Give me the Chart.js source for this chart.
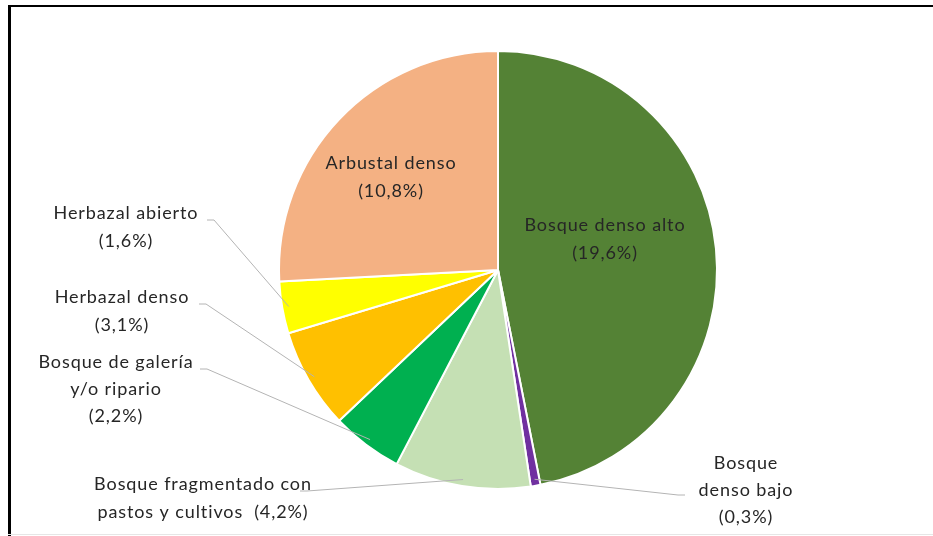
<!DOCTYPE html>
<html>
<head>
<meta charset="utf-8">
<script src="https://cdn.jsdelivr.net/npm/chart.js@4.4.1/dist/chart.umd.min.js"></script>
<style>
html,body{margin:0;padding:0;background:#fff;}
#wrap{position:relative;width:933px;height:536px;}
</style>
</head>
<body>
<div id="wrap"><canvas id="c" width="933" height="536"></canvas></div>
<script>
const categories = ["Bosque denso alto","Bosque denso bajo","Bosque fragmentado con pastos y cultivos","Bosque de galería y/o ripario","Herbazal denso","Herbazal abierto","Arbustal denso"];
const values = [19.6, 0.3, 4.2, 2.2, 3.1, 1.6, 10.8];
const valueLabels = ["(19,6%)","(0,3%)","(4,2%)","(2,2%)","(3,1%)","(1,6%)","(10,8%)"];
const colors = ["#548235","#7030A0","#C5E0B4","#00B050","#FFC000","#FFFF00","#F4B183"];

// label layout: lines of text, anchor center, optional leader start
const labelLayout = [
  {lines:["Bosque denso alto","(19,6%)"], x:605, y:225},
  {lines:["Bosque","denso bajo","(0,3%)"], x:746, y:463, lead:{x:685,y:495}},
  {lines:["Bosque fragmentado con","pastos y cultivos  (4,2%)"], x:203, y:484, lead:{x:300,y:491}},
  {lines:["Bosque de galería","y/o ripario","(2,2%)"], x:116, y:362, lead:{x:200,y:369}},
  {lines:["Herbazal denso","(3,1%)"], x:122, y:297, lead:{x:199,y:304}},
  {lines:["Herbazal abierto","(1,6%)"], x:126, y:213, lead:{x:207,y:220}},
  {lines:["Arbustal denso","(10,8%)"], x:391, y:163}
];

const labelPlugin = {
  id:'labels',
  afterDraw(chart){
    const ctx = chart.ctx;
    const meta = chart.getDatasetMeta(0);
    ctx.save();
    // frame
    ctx.fillStyle = '#000';
    ctx.fillRect(8,5,925,2);
    ctx.fillRect(8,5,3,531);
    ctx.fillStyle = '#e6e6e6';
    ctx.fillRect(8,534,925,1);
    // leader lines
    ctx.strokeStyle = '#B4B4B4';
    ctx.lineWidth = 1;
    labelLayout.forEach((L,i)=>{
      if(!L.lead) return;
      const arc = meta.data[i];
      const p = arc.getProps(['x','y','startAngle','endAngle','outerRadius'], true);
      const mid = (p.startAngle + p.endAngle)/2;
      const r = p.outerRadius*0.97;
      const tx = p.x + Math.cos(mid)*r, ty = p.y + Math.sin(mid)*r;
      ctx.beginPath();
      ctx.moveTo(L.lead.x, L.lead.y);
      const hx = L.lead.x + (tx > L.lead.x ? 7 : -7);
      ctx.lineTo(hx, L.lead.y);
      ctx.lineTo(tx, ty);
      ctx.stroke();
    });
    // text
    ctx.fillStyle = '#262626';
    ctx.font = '18px Lato, "Open Sans", sans-serif';
    ctx.textAlign = 'center';
    ctx.textBaseline = 'middle';
    try { ctx.letterSpacing = '0.9px'; } catch(e){}
    labelLayout.forEach(L=>{
      const lh = L.lines.length === 3 ? 27 : 28;
      L.lines.forEach((t,k)=>{
        ctx.fillText(t, L.x, L.y + k*lh);
      });
    });
    ctx.restore();
  }
};

new Chart(document.getElementById('c'), {
  type:'pie',
  data:{
    labels: categories,
    datasets:[{
      data: values,
      backgroundColor: colors,
      borderColor:'#ffffff',
      borderWidth:2,
      hoverOffset:0
    }]
  },
  options:{
    responsive:false,
    animation:false,
    events:[],
    layout:{padding:{top:50,bottom:46,left:200,right:137}},
    plugins:{legend:{display:false},tooltip:{enabled:false}}
  },
  plugins:[labelPlugin]
});
</script>
</body>
</html>
